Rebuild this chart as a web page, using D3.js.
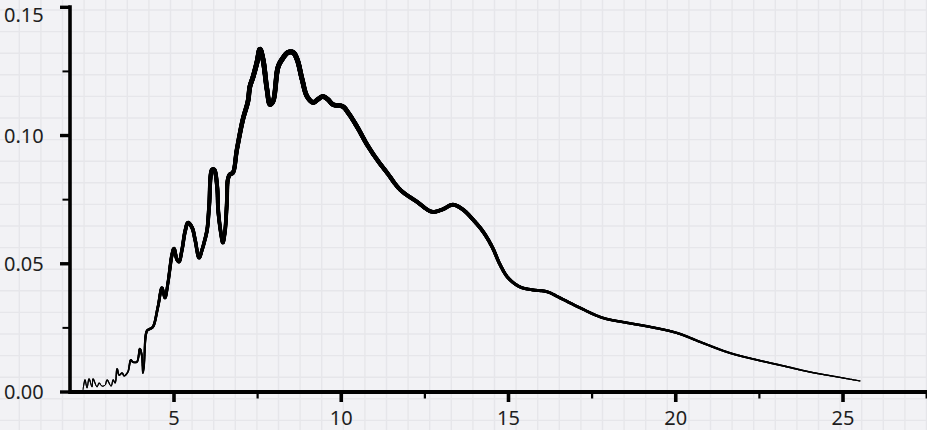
<!DOCTYPE html>
<html>
<head>
<meta charset="utf-8">
<script src="https://cdn.jsdelivr.net/npm/d3@7"></script>
<style>
  html, body { margin: 0; padding: 0; background: #f2f2f5; }
  svg { display: block; }
  text { font-family: "Noto Sans", sans-serif; fill: #1e1e1e; }
</style>
</head>
<body>
<svg id="chart" width="927" height="430"></svg>
<script>
// Density estimate of the measured quantity
const xValues = [2.28, 2.34, 2.40, 2.46, 2.55, 2.58, 2.70, 2.76, 2.85, 2.94, 3.00, 3.12, 3.18, 3.24,
  3.30, 3.36, 3.45, 3.51, 3.62, 3.71, 3.77, 3.89, 3.98, 4.04, 4.07, 4.10, 4.19, 4.28, 4.37, 4.52,
  4.64, 4.73, 4.82, 4.94, 5.00, 5.09, 5.15, 5.24, 5.33, 5.42, 5.54, 5.63, 5.75, 5.84, 5.90, 5.99,
  6.05, 6.14, 6.20, 6.29, 6.32, 6.40, 6.46, 6.52, 6.58, 6.61, 6.67, 6.76, 6.88, 7.06, 7.21, 7.27,
  7.36, 7.48, 7.57, 7.66, 7.78, 7.87, 7.96, 8.11, 8.23, 8.41, 8.56, 8.68, 8.83, 8.98, 9.16, 9.30,
  9.45, 9.60, 9.75, 10.05, 10.20, 10.47, 10.77, 11.07, 11.37, 11.76, 12.26, 12.71, 13.01, 13.34,
  13.64, 13.94, 14.24, 14.51, 14.75, 14.99, 15.34, 15.73, 16.15, 16.54, 17.14, 17.82, 18.54, 19.23,
  20.04, 20.81, 21.62, 22.43, 23.21, 24.01, 24.82, 25.51];
const densityValues = [0.0008, 0.0047, 0.0016, 0.0051, 0.0020, 0.0051, 0.0020, 0.0035, 0.0023, 0.0027,
  0.0047, 0.0023, 0.0047, 0.0035, 0.0090, 0.0066, 0.0074, 0.0063, 0.0078, 0.0125, 0.0117, 0.0117,
  0.0168, 0.0141, 0.0074, 0.0094, 0.0238, 0.0246, 0.0254, 0.0332, 0.0406, 0.0367, 0.0426, 0.0535,
  0.0559, 0.0516, 0.0508, 0.0555, 0.0625, 0.0660, 0.0641, 0.0594, 0.0523, 0.0555, 0.0582, 0.0633,
  0.0723, 0.0867, 0.0867, 0.0801, 0.0711, 0.0621, 0.0582, 0.0621, 0.0738, 0.0828, 0.0848, 0.0855,
  0.0945, 0.1063, 0.1133, 0.1191, 0.1227, 0.1285, 0.1336, 0.1297, 0.1180, 0.1121, 0.1133, 0.1266,
  0.1297, 0.1324, 0.1324, 0.1297, 0.1219, 0.1152, 0.1129, 0.1141, 0.1152, 0.1141, 0.1121, 0.1113,
  0.1090, 0.1035, 0.0965, 0.0906, 0.0855, 0.0789, 0.0742, 0.0703, 0.0711, 0.0730, 0.0711, 0.0672,
  0.0625, 0.0566, 0.0496, 0.0445, 0.0410, 0.0398, 0.0391, 0.0367, 0.0328, 0.0289, 0.0270, 0.0254,
  0.0230, 0.0191, 0.0152, 0.0125, 0.0102, 0.0078, 0.0059, 0.0043];

const xMajorTicks = [5, 10, 15, 20, 25];
const xMinorTicks = [7.5, 12.5, 17.5, 22.5, 27.5];
const yMajorTicks = [0, 0.05, 0.10, 0.15];
const yMinorTicks = [0.025, 0.075, 0.125];
const yTickLabels = ["0.00", "0.05", "0.10", "0.15"];

const W = 927, H = 430;
const svg = d3.select("#chart");

const x = d3.scaleLinear().domain([1.891, 27.52]).range([70, 927.3]);
const y = d3.scaleLinear().domain([0, 0.15]).range([392, 7.3]);
const strokeW = d3.scalePow().exponent(0.42).domain([0, 0.134]).range([0, 5]);

// Squared paper backdrop
const grid = svg.append("g").attr("class", "paper");
for (let gx = 19.3; gx < W; gx += 21.6) {
  grid.append("line").attr("x1", gx).attr("x2", gx).attr("y1", 0).attr("y2", H)
    .attr("stroke", "#e6e6ea").attr("stroke-width", 1.4);
}
for (let gy = 10; gy < H; gy += 21.6) {
  grid.append("line").attr("y1", gy).attr("y2", gy).attr("x1", 0).attr("x2", W)
    .attr("stroke", "#e6e6ea").attr("stroke-width", 1.4);
}

// Density curve: smooth path sampled, then drawn with a width that follows the density
const pts = xValues.map((v, i) => [x(v), y(densityValues[i])]);
const lineGen = d3.line().curve(d3.curveCatmullRom.alpha(0.5));
const guide = svg.append("path").attr("d", lineGen(pts)).attr("fill", "none").attr("stroke", "none");
const node = guide.node();
const total = node.getTotalLength();
const samples = [];
for (let s = 0; s <= total; s += 0.6) {
  const p = node.getPointAtLength(s);
  samples.push([p.x, p.y]);
}
const endP = node.getPointAtLength(total);
samples.push([endP.x, endP.y]);

const curve = svg.append("g").attr("class", "density");
for (let i = 1; i < samples.length; i++) {
  const a = samples[i - 1], b = samples[i];
  const d = y.invert((a[1] + b[1]) / 2);
  curve.append("line")
    .attr("x1", a[0]).attr("y1", a[1]).attr("x2", b[0]).attr("y2", b[1])
    .attr("stroke", "#000")
    .attr("stroke-linecap", "round")
    .attr("stroke-width", Math.max(0.5, strokeW(Math.max(0, d))));
}

// Axes
const axes = svg.append("g").attr("class", "axes");
axes.append("line").attr("x1", 70).attr("x2", 70).attr("y1", y(0.15) - 2).attr("y2", y(0) + 2)
  .attr("stroke", "#000").attr("stroke-width", 3.6);
axes.append("line").attr("x1", 70).attr("x2", W).attr("y1", y(0)).attr("y2", y(0))
  .attr("stroke", "#000").attr("stroke-width", 3.8);

yMajorTicks.forEach(t => {
  axes.append("line").attr("x1", 60).attr("x2", 70).attr("y1", y(t)).attr("y2", y(t))
    .attr("stroke", "#000").attr("stroke-width", 3.4);
});
yMinorTicks.forEach(t => {
  axes.append("line").attr("x1", 62.5).attr("x2", 70).attr("y1", y(t)).attr("y2", y(t))
    .attr("stroke", "#000").attr("stroke-width", 2);
});
xMajorTicks.forEach(t => {
  axes.append("line").attr("x1", x(t)).attr("x2", x(t)).attr("y1", y(0)).attr("y2", y(0) + 10)
    .attr("stroke", "#000").attr("stroke-width", 3.6);
});
xMinorTicks.forEach(t => {
  axes.append("line").attr("x1", x(t)).attr("x2", x(t)).attr("y1", y(0)).attr("y2", y(0) + 6.5)
    .attr("stroke", "#000").attr("stroke-width", 2.2);
});

// Tick labels
yMajorTicks.forEach((t, i) => {
  const cy = Math.max(y(t), 14.5);
  axes.append("text").attr("x", 4).attr("y", cy).attr("dy", "0.36em")
    .attr("font-size", 20).attr("text-anchor", "start").text(yTickLabels[i]);
});
xMajorTicks.forEach(t => {
  axes.append("text").attr("x", x(t)).attr("y", 424.5)
    .attr("font-size", 20).attr("text-anchor", "middle").text(String(t));
});
</script>
</body>
</html>
